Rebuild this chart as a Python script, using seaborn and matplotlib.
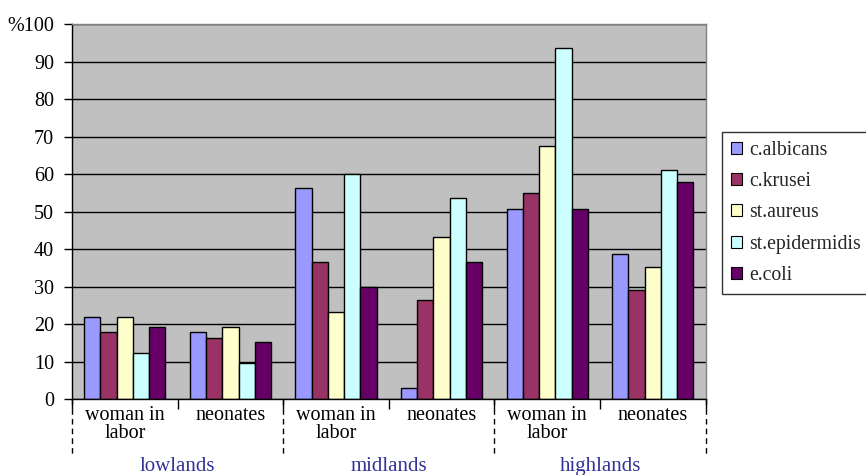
import matplotlib
matplotlib.use("Agg")
import matplotlib.pyplot as plt
import matplotlib.transforms as mtransforms
import pandas as pd
import seaborn as sns

# Regions and sampled groups along the x axis
regions = ["lowlands", "midlands", "highlands"]
groups = ["woman in\nlabor", "neonates"]

# Organisms (legend order)
organisms = ["c.albicans", "c.krusei", "st.aureus", "st.epidermidis", "e.coli"]

# Percent of positive samples per organism, in order:
# lowlands woman, lowlands neonates, midlands woman, midlands neonates,
# highlands woman, highlands neonates
c_albicans = [22.0, 18.0, 56.4, 3.1, 50.8, 38.8]
c_krusei = [18.0, 16.4, 36.5, 26.5, 54.9, 29.0]
st_aureus = [22.0, 19.2, 23.3, 43.3, 67.6, 35.2]
st_epidermidis = [12.3, 9.7, 60.0, 53.7, 93.6, 61.2]
e_coli = [19.2, 15.2, 29.9, 36.5, 50.8, 57.9]

y_ticks = [0, 10, 20, 30, 40, 50, 60, 70, 80, 90, 100]
y_tick_labels = ["0", "10", "20", "30", "40", "50", "60", "70", "80", "90", "%100"]

colors = ["#9999ff", "#993366", "#ffffcc", "#ccffff", "#660066"]

series = [c_albicans, c_krusei, st_aureus, st_epidermidis, e_coli]
slots = [f"{r}|{g}" for r in regions for g in groups]
rows = []
for org, vals in zip(organisms, series):
    for slot, v in zip(slots, vals):
        rows.append({"slot": slot, "organism": org, "value": v})
df = pd.DataFrame(rows)

sns.set_theme(style="white")
plt.rcParams["font.family"] = ["Liberation Serif", "DejaVu Serif"]

fig = plt.figure(figsize=(8.66, 4.75), dpi=100)
ax = fig.add_axes([0.0831, 0.1594, 0.7317, 0.7901])
ax.set_facecolor("#c0c0c0")

sns.barplot(data=df, x="slot", y="value", hue="organism", order=slots,
            hue_order=organisms, palette=colors, width=0.77, gap=0,
            edgecolor="black", linewidth=1.0, saturation=1, ax=ax,
            legend=True)

ax.set_ylim(0, 100)
ax.set_xlim(-0.5, len(slots) - 0.5)
ax.set_yticks(y_ticks)
ax.set_yticklabels(y_tick_labels, fontsize=14.5, color="black")
ax.yaxis.grid(True, color="black", linewidth=1.0)
ax.xaxis.grid(False)
ax.set_axisbelow(True)
ax.set_xlabel("")
ax.set_ylabel("")

ax.tick_params(axis="y", which="major", direction="out", length=6,
               width=1, color="black", left=True, pad=7)

# Group labels under the bars
ax.set_xticks(range(len(slots)))
ax.set_xticklabels([s.split("|")[1] for s in slots], fontsize=14.5,
                   color="black", linespacing=0.9)
ax.tick_params(axis="x", which="major", length=0, pad=5)
ax.set_xticks([i - 0.5 for i in range(len(slots) + 1)], minor=True)
ax.tick_params(axis="x", which="minor", direction="out", length=7,
               width=1, color="black", bottom=True)

for side in ["left", "bottom"]:
    ax.spines[side].set_color("black")
    ax.spines[side].set_linewidth(1.0)
for side in ["top", "right"]:
    ax.spines[side].set_color("#808080")
    ax.spines[side].set_linewidth(1.0)

# Region labels and dashed separators
trans = mtransforms.blended_transform_factory(ax.transData, ax.transAxes)
for i, r in enumerate(regions):
    ax.text(2 * i + 0.5, -0.18, r, transform=trans, ha="center",
            va="center", fontsize=15, color="#333399")
for xb in [-0.5, 1.5, 3.5, 5.5]:
    ax.plot([xb, xb], [0, -0.148], transform=trans, color="black",
            linewidth=1.0, linestyle=(0, (4, 3)), clip_on=False)

# Legend box on the right
handles, labels = ax.get_legend_handles_labels()
leg = ax.legend(handles, labels, loc="upper left",
                bbox_to_anchor=(0.834, 0.722), bbox_transform=fig.transFigure,
                frameon=True, fancybox=False, fontsize=14.2,
                handlelength=0.55, handleheight=0.55, handletextpad=0.35,
                labelspacing=0.62, borderpad=0.45, borderaxespad=0)
leg.get_frame().set_edgecolor("black")
leg.get_frame().set_linewidth(1.0)
for p in leg.get_patches():
    p.set_linewidth(0.8)
    p.set_edgecolor("black")

fig.savefig("out.png", dpi=100, facecolor="white")
